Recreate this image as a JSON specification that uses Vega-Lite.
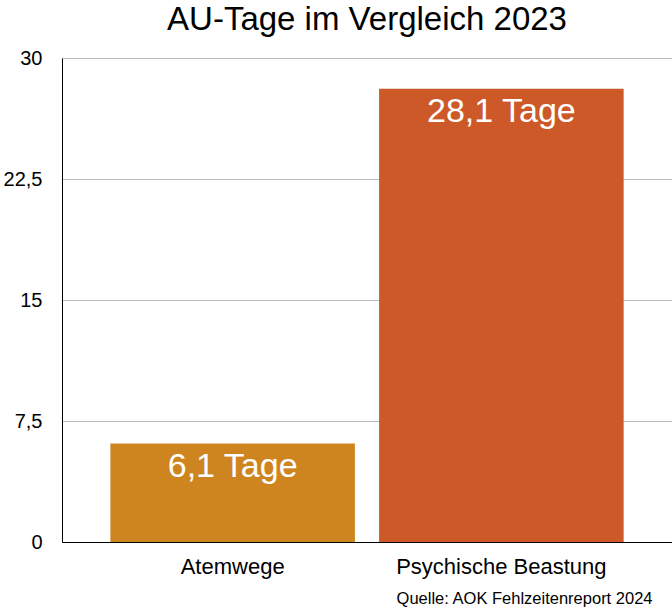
{
  "$schema": "https://vega.github.io/schema/vega-lite/v6.json",
  "autosize": {"type": "none"},
  "padding": {"left": 62, "top": 58, "right": 0, "bottom": 69},
  "width": 610,
  "height": 484,
  "background": "white",
  "title": {
    "text": "AU-Tage im Vergleich 2023",
    "frame": "group",
    "anchor": "middle",
    "baseline": "alphabetic",
    "offset": -15,
    "font": "Liberation Sans",
    "fontSize": 33,
    "fontWeight": "normal",
    "color": "black"
  },
  "data": {
    "values": [
      {"Kategorie": "Atemwege", "Tage": 6.1, "Label": "6,1 Tage"},
      {"Kategorie": "Psychische Beastung", "Tage": 28.1, "Label": "28,1 Tage"}
    ]
  },
  "encoding": {
    "x": {
      "field": "Kategorie",
      "type": "nominal",
      "sort": null,
      "scale": {"paddingInner": 0.09, "paddingOuter": 0.18},
      "axis": {
        "title": "Quelle: AOK Fehlzeitenreport 2024",
        "titleAnchor": "end",
        "titleAlign": "right",
        "titleBaseline": "alphabetic",
        "titleX": 590,
        "titleY": 61,
        "titleFont": "Liberation Sans",
        "titleFontSize": 16.5,
        "titleFontWeight": "normal",
        "titleColor": "black",
        "labelAngle": 0,
        "labelLimit": 400,
        "labelFont": "Liberation Sans",
        "labelFontSize": 22,
        "labelColor": "black",
        "labelPadding": 14,
        "ticks": false,
        "domainColor": "black",
        "grid": false
      }
    },
    "y": {
      "field": "Tage",
      "type": "quantitative",
      "scale": {"domain": [0, 30], "nice": false},
      "axis": {
        "title": null,
        "values": [0, 7.5, 15, 22.5, 30],
        "format": ".1~f",
        "labelExpr": "replace(datum.label, '.', ',')",
        "labelFont": "Liberation Sans",
        "labelFontSize": 20,
        "labelColor": "black",
        "labelPadding": 20,
        "ticks": false,
        "domainColor": "black",
        "grid": true,
        "gridColor": "#BDBDBD",
        "gridWidth": 1
      }
    }
  },
  "layer": [
    {
      "mark": {"type": "bar"},
      "encoding": {
        "color": {
          "field": "Kategorie",
          "type": "nominal",
          "scale": {
            "domain": ["Atemwege", "Psychische Beastung"],
            "range": ["#CE8520", "#CC5927"]
          },
          "legend": null
        }
      }
    },
    {
      "mark": {
        "type": "text",
        "baseline": "alphabetic",
        "dy": 33,
        "font": "Liberation Sans",
        "fontSize": 34,
        "color": "white"
      },
      "encoding": {
        "text": {"field": "Label"}
      }
    }
  ],
  "config": {
    "view": {"stroke": null}
  }
}
